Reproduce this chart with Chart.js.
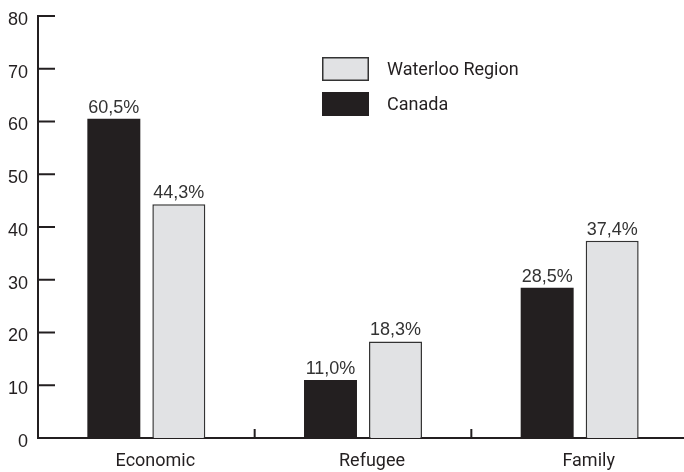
<!DOCTYPE html>
<html>
<head>
<meta charset="utf-8">
<script src="https://cdn.jsdelivr.net/npm/chart.js@4/dist/chart.umd.min.js"></script>
<style>
  html, body { margin: 0; padding: 0; background: #fff; overflow: hidden; }
  #wrap { position: relative; width: 688px; height: 472px; }
</style>
</head>
<body>
<div id="wrap"><canvas id="c"></canvas></div>
<script>
const categories = ["Economic", "Refugee", "Family"];
const canadaValues = [60.5, 11.0, 28.5];
const waterlooValues = [44.3, 18.3, 37.4];
const canadaLabels = ["60,5%", "11,0%", "28,5%"];
const waterlooLabels = ["44,3%", "18,3%", "37,4%"];
const yTicks = [0, 10, 20, 30, 40, 50, 60, 70, 80];

const INK = "#231f20";

const overlayPlugin = {
  id: "overlay",
  afterDatasetsDraw(chart) {
    const ctx = chart.ctx;
    const y = chart.scales.y, x = chart.scales.x;
    const area = chart.chartArea;
    ctx.save();
    ctx.strokeStyle = INK;
    ctx.lineWidth = 2;
    y.ticks.forEach(t => {
      const py = y.getPixelForValue(t.value);
      ctx.beginPath();
      ctx.moveTo(area.left, py);
      ctx.lineTo(area.left + 17, py);
      ctx.stroke();
    });
    for (let i = 0; i < categories.length - 1; i++) {
      const px = (x.getPixelForValue(i) + x.getPixelForValue(i + 1)) / 2;
      ctx.beginPath();
      ctx.moveTo(px, area.bottom);
      ctx.lineTo(px, area.bottom - 9);
      ctx.stroke();
    }
    ctx.font = "18px 'Liberation Sans', Arial, sans-serif";
    ctx.fillStyle = "#333333";
    ctx.textAlign = "center";
    ctx.textBaseline = "alphabetic";
    const labelSets = [canadaLabels, waterlooLabels];
    chart.data.datasets.forEach((ds, di) => {
      const meta = chart.getDatasetMeta(di);
      meta.data.forEach((bar, i) => {
        ctx.fillText(labelSets[di][i], bar.x, bar.y - 6);
      });
    });
    const order = [1, 0];
    ctx.font = "18px Roboto, sans-serif";
    ctx.textAlign = "left";
    ctx.textBaseline = "middle";
    order.forEach((di, k) => {
      const ds = chart.data.datasets[di];
      const bx = 322, by = 57 + k * 35, bw = 47, bh = 24;
      ctx.fillStyle = ds.backgroundColor;
      ctx.fillRect(bx, by, bw, bh);
      if (ds.borderWidth) {
        ctx.strokeStyle = ds.borderColor;
        ctx.lineWidth = 1.5;
        ctx.strokeRect(bx + 0.75, by + 0.75, bw - 1.5, bh - 1.5);
      }
      ctx.fillStyle = INK;
      ctx.fillText(ds.label, 387, by + bh / 2 + 1);
    });
    ctx.restore();
  }
};

new Chart(document.getElementById("c"), {
  type: "bar",
  data: {
    labels: categories,
    datasets: [
      {
        label: "Canada",
        data: canadaValues,
        backgroundColor: INK,
        borderWidth: 0,
        categoryPercentage: 0.6,
        barPercentage: 0.815
      },
      {
        label: "Waterloo Region",
        data: waterlooValues,
        backgroundColor: "#e1e2e4",
        borderColor: "#333333",
        borderWidth: 1.5,
        borderSkipped: "bottom",
        categoryPercentage: 0.6,
        barPercentage: 0.815
      }
    ]
  },
  options: {
    responsive: true,
    maintainAspectRatio: false,
    animation: false,
    devicePixelRatio: 1,
    layout: { padding: { top: 16, right: 0, left: 0, bottom: 0 } },
    plugins: { legend: { display: false }, tooltip: { enabled: false } },
    scales: {
      x: {
        grid: { display: false, drawTicks: false },
        border: { display: true, color: INK, width: 2 },
        ticks: {
          color: INK,
          font: { family: "Roboto", size: 18 },
          padding: 13,
          labelOffset: 9,
          maxRotation: 0
        },
        afterFit(scale) { scale.height = 34; scale.paddingLeft = 0; scale.paddingRight = 0; }
      },
      y: {
        min: 0,
        max: 80,
        afterBuildTicks(scale) { scale.ticks = yTicks.map(v => ({ value: v })); },
        grid: { display: false, drawTicks: false },
        border: { display: true, color: INK, width: 2 },
        ticks: {
          color: INK,
          font: { family: "'Liberation Sans'", size: 18 },
          padding: 10,
          labelOffset: 4
        },
        afterFit(scale) { scale.width = 38; scale.paddingTop = 0; scale.paddingBottom = 0; }
      }
    }
  },
  plugins: [overlayPlugin]
});
</script>
</body>
</html>
